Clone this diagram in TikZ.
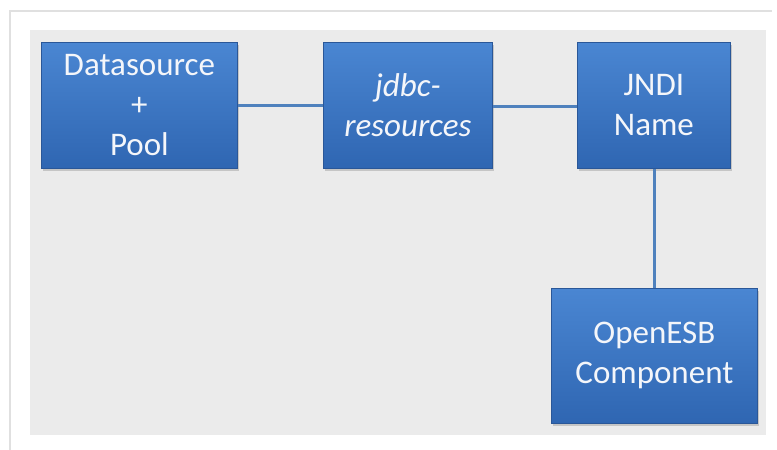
\documentclass[tikz,border=0pt]{standalone}
\usepackage{fontspec}
\setmainfont{Carlito}
\usetikzlibrary{shadows}
\definecolor{panel}{HTML}{EBEBEB}
\definecolor{boxtop}{HTML}{4A86D2}
\definecolor{boxbot}{HTML}{2F66B2}
\definecolor{boxedge}{HTML}{2A5798}
\definecolor{linkc}{HTML}{4F81BD}
\definecolor{txt}{HTML}{F4F6FA}
\tikzset{
  blockbox/.style={draw=boxedge, line width=0.8pt, top color=boxtop, bottom color=boxbot,
    text=txt, font=\fontsize{33}{40}\selectfont, align=center, anchor=north west,
    inner sep=0pt, drop shadow={shadow xshift=2pt, shadow yshift=-3pt, opacity=0.35}},
  link/.style={draw=linkc, line width=3pt}
}
\begin{document}
\begin{tikzpicture}[x=1pt,y=-1pt]
\useasboundingbox (0,0) rectangle (777,450);
\fill[white] (0,0) rectangle (777,450);
\draw[draw=black!12, line width=2pt] (10,450) -- (10,11) -- (772,11);
\fill[panel] (30,30) rectangle (766,435);
\node[blockbox, minimum width=196pt, minimum height=126pt] (ds) at (41,42) {Datasource\\+\\Pool};
\node[blockbox, minimum width=169pt, minimum height=126pt] (jdbc) at (323,42) {\itshape jdbc-\\\itshape resources};
\node[blockbox, minimum width=153pt, minimum height=126pt] (jndi) at (577,42) {JNDI\\Name};
\node[blockbox, minimum width=206pt, minimum height=135pt] (esb) at (551,288) {OpenESB\\Component};
\draw[link] (ds.east |- 0,105) -- (jdbc.west |- 0,105);
\draw[link] (jdbc.east |- 0,106) -- (jndi.west |- 0,106);
\draw[link] (jndi.south -| 654,0) -- (esb.north -| 654,0);
\end{tikzpicture}
\end{document}
